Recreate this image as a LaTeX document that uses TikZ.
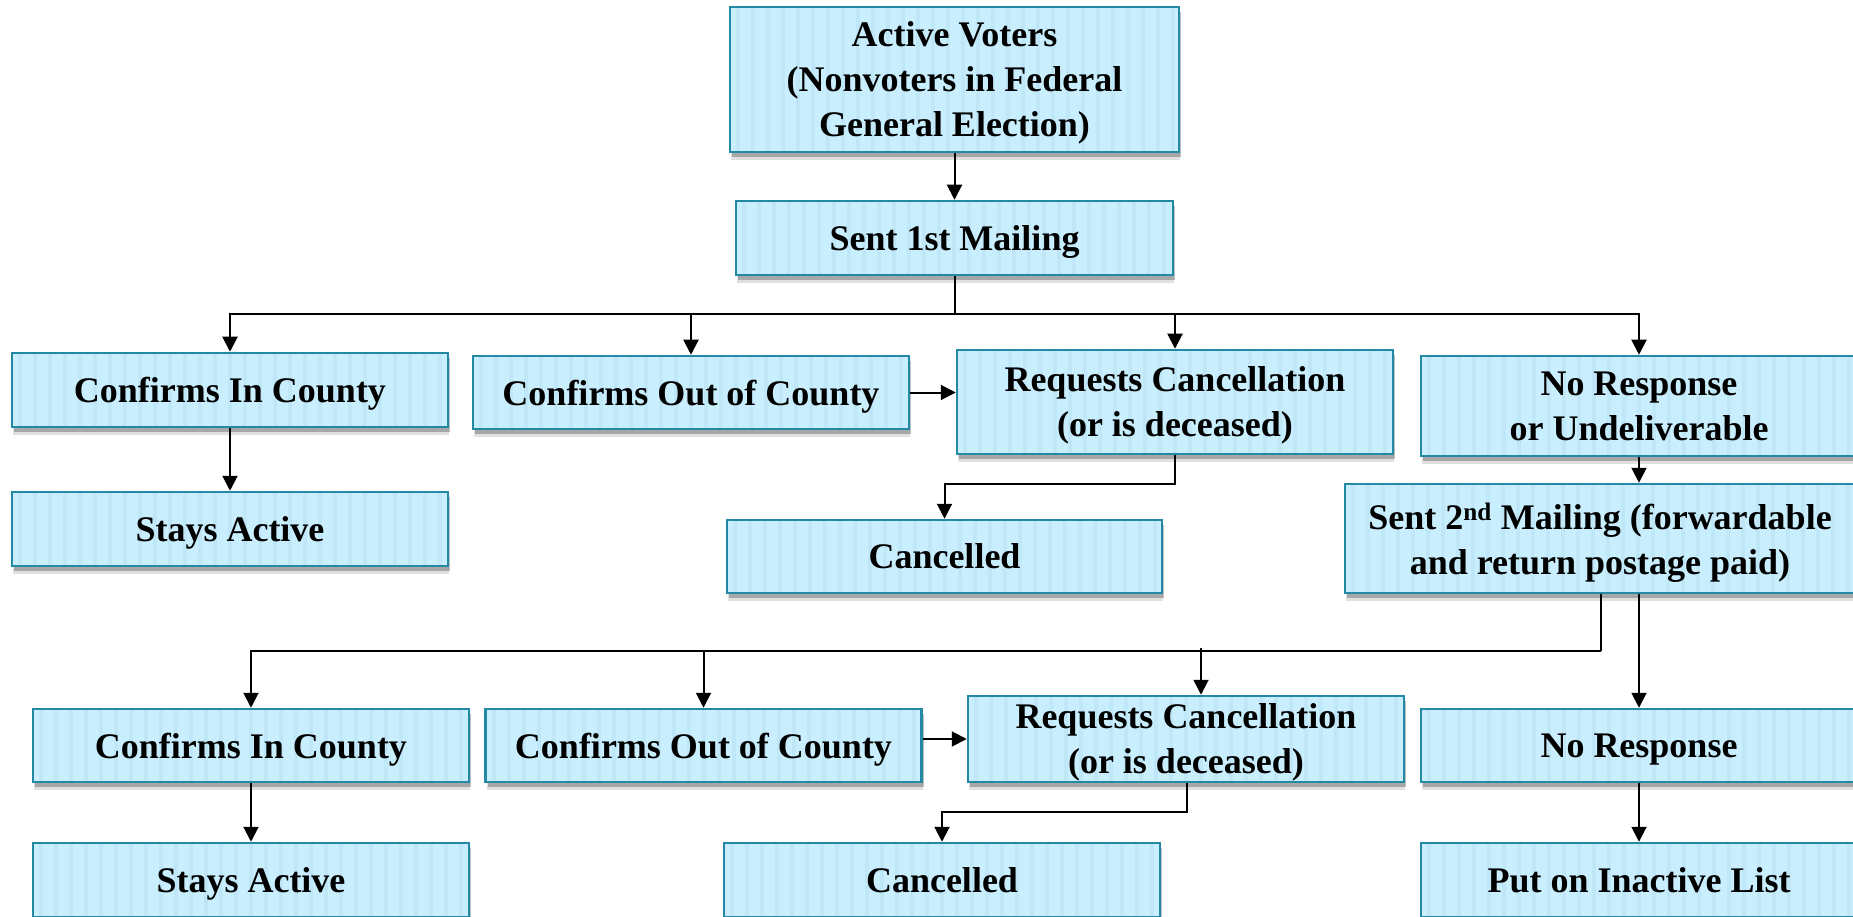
\documentclass[tikz,border=0pt]{standalone}
\usepackage{fontspec}
\setmainfont{Liberation Serif}
\usetikzlibrary{shadows,arrows.meta,calc}
\definecolor{boxfill}{HTML}{C9EEFD}
\definecolor{boxstripe}{HTML}{C0E7F7}
\definecolor{boxline}{HTML}{2389A5}
\tikzset{
  flowbox/.style={draw=boxline, line width=2.5pt, fill=boxfill,
    minimum width=436pt, inner sep=0pt, align=center, text depth=0pt,
    font=\fontsize{36}{45}\selectfont\bfseries,
    drop shadow={shadow xshift=1pt, shadow yshift=-8pt, opacity=0.12, fill=black},
    drop shadow={shadow xshift=2pt, shadow yshift=-5pt, opacity=0.25, fill=black},
    path picture={\foreach \k in {0,...,40}{\fill[boxstripe]
      ($(path picture bounding box.north west)+(\k*15+6,0)$) rectangle ++(4,220);}}},
  conn/.style={line width=2pt, -{Triangle[length=15pt,width=15pt]}},
  plainline/.style={line width=2pt}
}
\begin{document}
\begin{tikzpicture}[x=1pt,y=-1pt]
\useasboundingbox (0,0) rectangle (1853,917);
\fill[white] (0,0) rectangle (1853,917);

\node[flowbox, minimum width=449pt, minimum height=145pt] (av) at (954.5,79.5) {Active Voters\\(Nonvoters in Federal\\General Election)};
\node[flowbox, minimum width=437pt, minimum height=74pt] (s1) at (954.5,238) {Sent 1st Mailing};

\node[flowbox, minimum height=74pt] (cin1) at (230,390) {Confirms In County};
\node[flowbox, minimum height=73pt] (cout1) at (691,392.5) {Confirms Out of County};
\node[flowbox, minimum height=104pt] (req1) at (1175,402) {Requests Cancellation\\(or is deceased)};
\node[flowbox, minimum height=100pt] (nr1) at (1639,406) {No Response\\or Undeliverable};

\node[flowbox, minimum height=74pt] (sa1) at (230,529) {Stays Active};
\node[flowbox, minimum width=435pt, minimum height=73pt] (can1) at (944.5,556.5) {Cancelled};
\node[flowbox, minimum width=510pt, minimum height=109pt] (s2) at (1600,538.5) {Sent 2\textsuperscript{nd} Mailing (forwardable\\and return postage paid)};

\node[flowbox, minimum height=73pt] (cin2) at (251,745.5) {Confirms In County};
\node[flowbox, minimum height=73pt] (cout2) at (703.5,745.5) {Confirms Out of County};
\node[flowbox, minimum height=86pt] (req2) at (1186,739) {Requests Cancellation\\(or is deceased)};
\node[flowbox, minimum height=73pt] (nr2) at (1639,745.5) {No Response};

\node[flowbox, minimum height=74pt] (sa2) at (251,880) {Stays Active};
\node[flowbox, minimum height=74pt] (can2) at (942,880) {Cancelled};
\node[flowbox, minimum height=74pt] (pil) at (1639,880) {Put on Inactive List};

% connectors, first mailing
\draw[conn] (av.south) -- (s1.north);
\coordinate (b1) at (954.5,314);
\draw[plainline] (s1.south) -- (b1);
\draw[conn] (b1) -| (cin1.north);
\draw[conn] (b1) -| (cout1.north);
\draw[conn] (b1) -| (req1.north);
\draw[conn] (b1) -| (nr1.north);
\draw[conn] (cin1.south) -- (sa1.north);
\draw[conn] (cout1.east) -- (cout1.east -| req1.west);
\coordinate (e1) at (1175,484);
\draw[conn] (req1.south) -- (e1) -| (can1.north);
\draw[conn] (nr1.south) -- (nr1.south |- s2.north);

% connectors, second mailing
\coordinate (b2) at (1601,651);
\draw[plainline] (s2.south -| b2) -- (b2);
\draw[conn] (b2) -| (cin2.north);
\draw[conn] (b2) -| (cout2.north);
\draw[plainline] (b2) -- (1201,651);
\coordinate (r2t) at (1201,648);
\draw[conn] (r2t) -- (r2t |- req2.north);
\draw[conn] (s2.south -| nr2.north) -- (nr2.north);
\draw[conn] (cin2.south) -- (sa2.north);
\draw[conn] (cout2.east |- req2.west) -- (req2.west);
\coordinate (e2) at (1187,812);
\draw[conn] (req2.south -| e2) -- (e2) -| (can2.north);
\draw[conn] (nr2.south) -- (pil.north);
\end{tikzpicture}
\end{document}
